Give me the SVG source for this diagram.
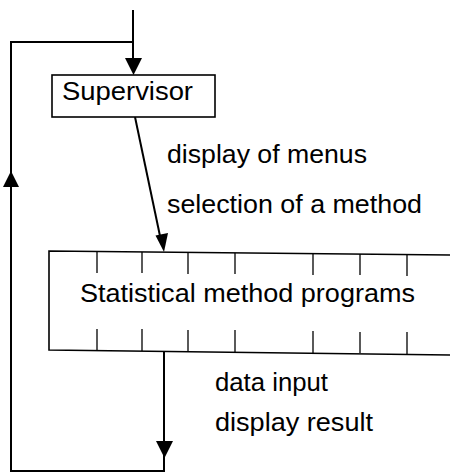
<svg xmlns="http://www.w3.org/2000/svg" width="450" height="474" viewBox="0 0 450 474">
<style>
.ln{fill:none;stroke:#000;stroke-width:2}
.bx{fill:#fff;stroke:#000;stroke-width:1.6}
.tk{stroke:#000;stroke-width:1.3}
.ah{fill:#000}
text{font-family:"Liberation Sans",Arial,sans-serif;font-size:25px;fill:#000}
</style>
<rect width="450" height="474" fill="#fff"/>
<g id="connectors">
  <path class="ln" d="M133,10 L133,60"/>
  <polygon class="ah" points="125,58 142,58 133.5,75"/>
  <path class="ln" d="M133,42 L11,42 L11,471 L164,471 L164,352"/>
  <polygon class="ah" points="3,187 19,187 11,171"/>
  <polygon class="ah" points="156,441 173,441 164.5,458"/>
  <path class="ln" d="M135,117 L160,236"/>
  <polygon class="ah" points="155.5,235.5 168,233 164,252"/>
</g>
<g id="supervisor">
  <rect class="bx" x="52" y="75" width="163" height="42"/>
  <text x="62" y="100" textLength="131" lengthAdjust="spacingAndGlyphs">Supervisor</text>
</g>
<g id="statistical">
  <path class="bx" d="M451,255 L49,251 L49,350 L451,355" fill="none"/>
  <g class="tk">
    <line x1="97" y1="251" x2="97" y2="273"/>
    <line x1="142" y1="252" x2="142" y2="273"/>
    <line x1="188" y1="252" x2="188" y2="274"/>
    <line x1="235" y1="253" x2="235" y2="274"/>
    <line x1="313" y1="254" x2="313" y2="275"/>
    <line x1="360" y1="254" x2="360" y2="275"/>
    <line x1="407" y1="255" x2="407" y2="276"/>
    <line x1="97" y1="329" x2="97" y2="350"/>
    <line x1="142" y1="329" x2="142" y2="351"/>
    <line x1="188" y1="330" x2="188" y2="351"/>
    <line x1="235" y1="330" x2="235" y2="352"/>
    <line x1="313" y1="331" x2="313" y2="353"/>
    <line x1="360" y1="332" x2="360" y2="353"/>
    <line x1="407" y1="332" x2="407" y2="354"/>
  </g>
  <text x="80" y="302" textLength="335" lengthAdjust="spacingAndGlyphs">Statistical method programs</text>
</g>
<g id="labels">
  <text x="167" y="163" textLength="200" lengthAdjust="spacingAndGlyphs">display of menus</text>
  <text x="167" y="213" textLength="255" lengthAdjust="spacingAndGlyphs">selection of a method</text>
  <text x="215" y="391" textLength="113" lengthAdjust="spacingAndGlyphs">data input</text>
  <text x="215" y="431" textLength="158" lengthAdjust="spacingAndGlyphs">display result</text>
</g>
</svg>
